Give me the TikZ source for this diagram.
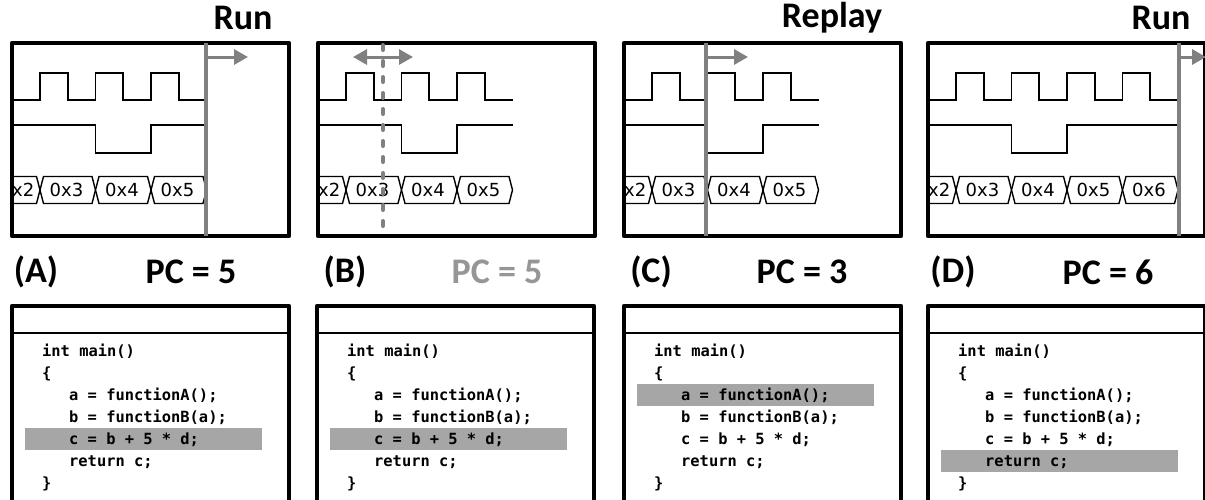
\documentclass[tikz,border=0pt]{standalone}
\usepackage{fontspec}
\setmainfont{Carlito}
\newfontfamily\codefont{DejaVu Sans Mono}
\newfontfamily\busfont{DejaVu Sans}
\usetikzlibrary{arrows.meta}
\definecolor{markgray}{RGB}{128,128,128}
\definecolor{hlgray}{RGB}{166,166,166}
\definecolor{pcgray}{RGB}{150,150,150}
\tikzset{
 frame/.style={line width=4.8pt, line join=round},
 sepline/.style={line width=2pt},
 sig/.style={line width=1.8pt, line join=miter},
 bushex/.style={line width=1.4pt, fill=white},
 bustext/.style={font=\busfont\fontsize{18}{18}\selectfont, inner sep=0pt},
 marker/.style={markgray, line width=4pt},
 dashmarker/.style={markgray, line width=4pt, line cap=round, dash pattern=on 5pt off 11pt},
 markarrow/.style={markgray, line width=3pt, -{Triangle[length=14pt,width=15pt]}},
 dblarrow/.style={markgray, line width=3pt, {Triangle[length=14pt,width=15pt]}-{Triangle[length=14pt,width=15pt]}},
 toplabel/.style={font=\bfseries\fontsize{36}{36}\selectfont, inner sep=0pt},
 codeline/.style={font=\codefont\bfseries\fontsize{15.4}{15.4}\selectfont, anchor=base west, inner sep=0pt},
 hl/.style={fill=hlgray, draw=none},
}
% #1 box x, #2 number of pulses, #3 name prefix
\newcommand\mywave[3]{%
 \begin{scope}
  \clip (#1+2,45) rectangle (#1+300,234);
  \draw[sig] (#1,100)
   \foreach \k in {1,...,#2}{ -- (#1+28+55.5*\k-55.5,100) -- (#1+28+55.5*\k-55.5,73)
      -- (#1+55.75+55.5*\k-55.5,73) -- (#1+55.75+55.5*\k-55.5,100) }
   -- (#1+28+55.5*#2,100);
  \draw[sig] (#1,125) -- (#1+83.5,125) -- (#1+83.5,153) -- (#1+139,153)
   -- (#1+139,125) -- (#1+28+55.5*#2,125);
  \draw[bushex] (#1-17,190) -- (#1-13.5,176.5) -- (#1+24.5,176.5) -- (#1+28,190)
   -- (#1+24.5,203.5) -- (#1-13.5,203.5) -- cycle;
  \node[bustext] (#3bus2) at (#1+5.5,190) {0x2};
  \foreach \k in {1,...,#2}{
   \pgfmathtruncatemacro{\lab}{\k+2}
   \draw[bushex] (#1+28+55.5*\k-55.5,190) -- (#1+31.5+55.5*\k-55.5,176.5)
    -- (#1+80+55.5*\k-55.5,176.5) -- (#1+83.5+55.5*\k-55.5,190)
    -- (#1+80+55.5*\k-55.5,203.5) -- (#1+31.5+55.5*\k-55.5,203.5) -- cycle;
   \node[bustext] (#3bus\lab) at (#1+54.5+55.5*\k-55.5,190) {0x\lab};
  }
 \end{scope}
 \draw[frame] (#1,43) rectangle (#1+277,236);
}
% #1 box x, #2 highlighted line, #3 prefix
\newcommand\mycode[3]{%
 \begin{scope}
  \clip (#1-10,290) rectangle (#1+290,499);
  \fill[hl] (#1+13,356+22*#2-22-16) rectangle (#1+250,356+22*#2-22+6);
  \draw[frame] (#1,530) -- (#1,306) -- (#1+277,306) -- (#1+277,530);
  \draw[sepline] (#1,333) -- (#1+277,333);
  \node[codeline] (#3l1) at (#1+30,356) {int main()};
  \node[codeline] (#3l2) at (#1+30,378) {\{};
  \node[codeline] (#3l3) at (#1+57,400) {a = functionA();};
  \node[codeline] (#3l4) at (#1+57,422) {b = functionB(a);};
  \node[codeline] (#3l5) at (#1+57,444) {c = b + 5 * d;};
  \node[codeline] (#3l6) at (#1+57,466) {return c;};
  \node[codeline] (#3l7) at (#1+30,488) {\}};
 \end{scope}
}
\begin{document}
\begin{tikzpicture}[x=1pt,y=-1pt]
\useasboundingbox (0,0) rectangle (1205,499);
\clip (0,0) rectangle (1205,499);
\fill[white] (0,0) rectangle (1205,499);
% panel A
\mywave{12}{3}{A}
\coordinate (Atop) at (206,43);
\coordinate (Abot) at (206,236);
\draw[marker] (Atop) -- (Abot);
\coordinate (Aas) at (206,57);
\coordinate (Aae) at (248,57);
\draw[markarrow] (Aas) -- (Aae);
\node[toplabel] (runA) at (243,18) {Run};
\node[toplabel] (labA) at (36,272) {(A)};
\node[toplabel] (pcA) at (191,272) {PC = 5};
\mycode{12}{5}{cA}
% panel B
\mywave{318}{3}{B}
\coordinate (Btop) at (383,45);
\coordinate (Bbot) at (383,231);
\draw[dashmarker] (Btop) -- (Bbot);
\coordinate (Bas) at (353,57);
\coordinate (Bae) at (413,57);
\draw[dblarrow] (Bas) -- (Bae);
\node[toplabel] (labB) at (345,272) {(B)};
\node[toplabel, text=pcgray] (pcB) at (497,272) {PC = 5};
\mycode{317}{5}{cB}
% panel C
\mywave{624}{3}{C}
\coordinate (Ctop) at (706,43);
\coordinate (Cbot) at (706,236);
\draw[marker] (Ctop) -- (Cbot);
\coordinate (Cas) at (706,57);
\coordinate (Cae) at (748,57);
\draw[markarrow] (Cas) -- (Cae);
\node[toplabel] (replayC) at (832,18) {Replay};
\node[toplabel] (labC) at (651,272) {(C)};
\node[toplabel] (pcC) at (802,272) {PC = 3};
\mycode{624}{3}{cC}
% panel D
\mywave{928}{4}{D}
\coordinate (Dtop) at (1179,43);
\coordinate (Dbot) at (1179,236);
\draw[marker] (Dtop) -- (Dbot);
\coordinate (Das) at (1179,57);
\coordinate (Dae) at (1206,57);
\draw[markarrow] (Das) -- (Dae);
\node[toplabel] (runD) at (1161,18) {Run};
\node[toplabel] (labD) at (953,272) {(D)};
\node[toplabel] (pcD) at (1108,272) {PC = 6};
\mycode{928}{6}{cD}
\end{tikzpicture}
\end{document}
